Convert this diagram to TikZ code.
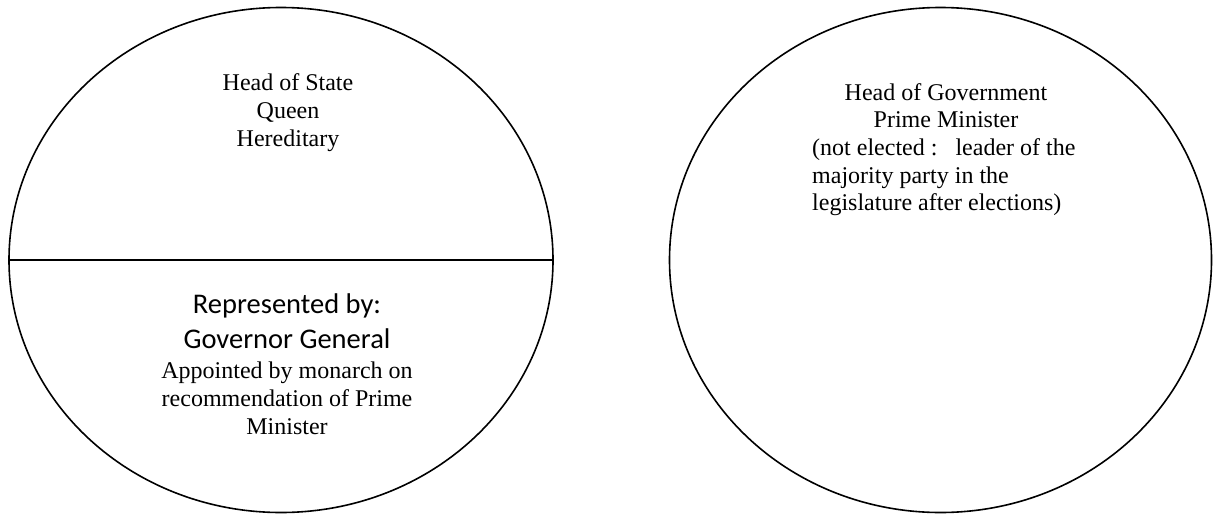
\documentclass[tikz,border=0pt]{standalone}
\usepackage{fontspec}
\setmainfont{Liberation Serif}
\newfontfamily\calibrifont{Carlito}
\usetikzlibrary{shapes.geometric}
\tikzset{
  oval/.style={ellipse, draw, line width=1.6pt, inner sep=0pt, outer sep=0pt},
  serifline/.style={anchor=base, inner sep=0pt, font=\fontsize{24}{28}\selectfont},
  sansline/.style={anchor=base, inner sep=0pt, font=\calibrifont\fontsize{28.5}{34}\selectfont},
  leftline/.style={anchor=base west, inner sep=0pt, font=\fontsize{24}{28}\selectfont}
}
\begin{document}
\begin{tikzpicture}[x=1pt, y=-1pt]
\useasboundingbox (0,0) rectangle (1214,514);
% left oval
\node[oval, minimum width=544pt, minimum height=505pt] (state) at (281,260) {};
\draw[line width=1.6pt] (state.west) -- (state.east);
\node[serifline] (hos) at (288,90) {Head of State};
\node[serifline] (queen) at (288,118) {Queen};
\node[serifline] (hered) at (288,146) {Hereditary};
\node[sansline] (rep) at (287,313) {Represented by:};
\node[sansline] (gg) at (287,348) {Governor General};
\node[serifline] (app1) at (287,378) {Appointed by monarch on};
\node[serifline] (app2) at (287,406) {recommendation of Prime};
\node[serifline] (app3) at (287,434) {Minister};
% right oval
\node[oval, minimum width=542pt, minimum height=505pt] (gov) at (940.5,260) {};
\node[serifline] (hog) at (946,100) {Head of Government};
\node[serifline] (pm) at (946,127) {Prime Minister};
\node[leftline] (ne1) at (812,155) {(not elected :\hspace{18pt}leader of the};
\node[leftline] (ne2) at (812,183) {majority party in the};
\node[leftline] (ne3) at (812,210) {legislature after elections)};
\end{tikzpicture}
\end{document}
